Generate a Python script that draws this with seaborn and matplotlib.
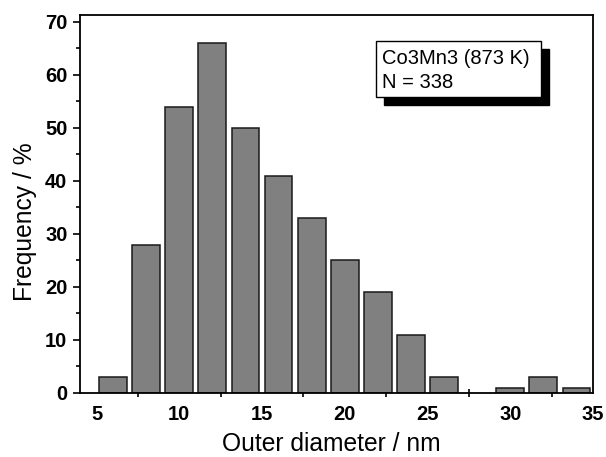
import matplotlib
matplotlib.use("Agg")
import matplotlib.pyplot as plt
import seaborn as sns
import pandas as pd
from matplotlib.patches import Rectangle

diameters = [6, 8, 10, 12, 14, 16, 18, 20, 22, 24, 26, 30, 32, 34]
frequency = [3, 28, 54, 66, 50, 41, 33, 25, 19, 11, 3, 1, 3, 1]
xticks = [5, 10, 15, 20, 25, 30, 35]
yticks = [0, 10, 20, 30, 40, 50, 60, 70]

sns.set_theme(style="ticks")
plt.rcParams['font.family'] = ['Liberation Sans', 'DejaVu Sans']

df = pd.DataFrame({"d": diameters, "f": frequency})

fig = plt.figure(figsize=(6.06, 4.57), dpi=100)
ax = fig.add_axes([80/606, 1-393/457, (593-80)/606, (393-15)/457])

sns.barplot(data=df, x="d", y="f", native_scale=True, width=0.84,
            color="#808080", saturation=1, edgecolor="#1a1a1a", linewidth=1.1, ax=ax)

ax.set_xlim(4, 35)
ax.set_ylim(0, 71.3)
ax.set_xticks(xticks)
ax.set_xticks([7.5, 12.5, 17.5, 22.5, 27.5, 32.5], minor=True)
ax.set_yticks(yticks)
ax.set_yticks([5, 15, 25, 35, 45, 55, 65], minor=True)
ax.set_xticklabels([str(v) for v in xticks], fontsize=14.5, fontweight="bold")
ax.set_yticklabels([str(v) for v in yticks], fontsize=14.5, fontweight="bold")
ax.tick_params(axis="x", which="major", length=0, pad=9, colors="black")
ax.tick_params(axis="x", which="minor", length=6, width=1.2, direction="inout", color="black")
ax.tick_params(axis="y", which="major", length=5, width=1.2, direction="out", pad=4, colors="black")
ax.tick_params(axis="y", which="minor", length=3, width=1.2, direction="out", color="black")
for s in ax.spines.values():
    s.set_visible(True)
    s.set_color("black")
    s.set_linewidth(1.3)

ax.set_xlabel("Outer diameter / nm", fontsize=17.7, color="black")
ax.set_ylabel("Frequency / %", fontsize=17.7, color="black")
ax.xaxis.set_label_coords((331 - 80) / 513, (393 - 432) / 378)
ax.yaxis.set_label_coords((37 - 80) / 513, (393 - 222) / 378)

# annotation box with shadow (figure pixel coordinates)
def fx(px):
    return px / 606
def fy(py):
    return 1 - py / 457
shadow = Rectangle((fx(384), fy(105)), fx(549) - fx(384), fy(49) - fy(105),
                   transform=fig.transFigure, facecolor="black", edgecolor="black", zorder=5)
box = Rectangle((fx(376), fy(97)), fx(541) - fx(376), fy(41) - fy(97),
                transform=fig.transFigure, facecolor="white", edgecolor="black", linewidth=1.0, zorder=6)
fig.patches.extend([shadow, box])
fig.text(fx(382), fy(58), "Co3Mn3 (873 K)", fontsize=14.5, va="center", ha="left", zorder=7, color="black")
fig.text(fx(382), fy(83), "N = 338", fontsize=14.5, va="center", ha="left", zorder=7, color="black")

fig.savefig("out.png", dpi=100)
